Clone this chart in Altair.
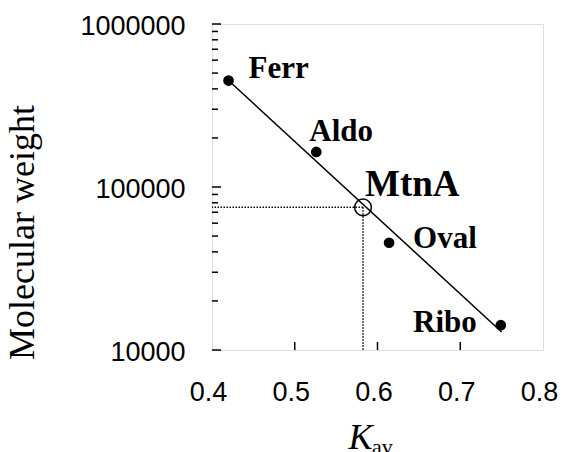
import altair as alt
import pandas as pd

# Calibration standards (gel filtration): Kav vs molecular weight
standards = ["Ferr", "Aldo", "Oval", "Ribo"]
std_kav = [0.42, 0.526, 0.614, 0.749]
std_mw = [450000, 164000, 45500, 14200]

# Sample protein
sample_name = ["MtnA"]
sample_kav = [0.5825]
sample_mw = [75000]

# Calibration line end points
fit_kav = [0.42, 0.75]
fit_mw = [450000, 12900]

# Axis ticks
x_ticks = [0.4, 0.5, 0.6, 0.7, 0.8]
x_inner_ticks = [0.5, 0.6, 0.7]
y_major = [10000, 100000, 1000000]
y_minor = [20000, 30000, 40000, 50000, 60000, 70000, 80000, 90000,
           200000, 300000, 400000, 500000, 600000, 700000, 800000, 900000]

W, H = 331, 326
SERIF = "Liberation Serif"
SANS = "Liberation Sans"

std_df = pd.DataFrame({"name": standards, "kav": std_kav, "mw": std_mw})
smp_df = pd.DataFrame({"name": sample_name, "kav": sample_kav, "mw": sample_mw})
fit_df = pd.DataFrame({"kav": fit_kav, "mw": fit_mw})

xs = alt.Scale(domain=[0.4, 0.8], nice=False, zero=False)
ys = alt.Scale(type="log", domain=[10000, 1000000], nice=False)

x_axis = alt.Axis(
    values=x_ticks, format=".1f", ticks=False, tickSize=0, domain=False, grid=False,
    labelFont=SANS, labelFontSize=27, labelColor="black", labelPadding=29,
    labelOffset=-4, labelFlush=False, labelOverlap=False, labelBound=False,
    title="K", titleFont=SERIF, titleFontSize=36, titleFontStyle="italic",
    titleFontWeight="normal", titleColor="black", titleAlign="left",
    titleBaseline="alphabetic", titleX=136, titleY=98,
)
y_axis = alt.Axis(
    values=y_major, format="d", ticks=False, tickSize=0, domain=False, grid=False,
    labelFont=SANS, labelFontSize=27, labelColor="black", labelPadding=27,
    labelOffset=2, labelFlush=False, labelOverlap=False, labelBound=False,
    title="Molecular weight", titleFont=SERIF, titleFontSize=36,
    titleFontWeight="normal", titleColor="black", titleAngle=-90,
    titleAlign="center", titleBaseline="middle", titleX=-190, titleY=208,
)

X = alt.X("kav:Q", scale=xs, axis=x_axis)
Y = alt.Y("mw:Q", scale=ys, axis=y_axis)

line = alt.Chart(fit_df).mark_line(color="black", strokeWidth=1.5).encode(x=X, y=Y)

# Dotted read-off guides for the sample
h_guide = alt.Chart(smp_df).mark_rule(color="black", strokeWidth=1.5, strokeDash=[1.5, 1.5]).encode(
    x=X, x2=alt.value(0), y=Y
)
v_guide = alt.Chart(smp_df).mark_rule(color="black", strokeWidth=1.5, strokeDash=[1.5, 1.5]).encode(
    x=X, y=Y, y2=alt.value(H)
)

dots = alt.Chart(std_df).mark_circle(color="black", opacity=1, size=115).encode(x=X, y=Y)
ring = alt.Chart(smp_df).mark_point(
    shape="circle", filled=False, color="black", strokeWidth=1.5, size=280, opacity=1
).encode(x=X, y=Y)

# Point labels
label_style = {
    "Ferr": dict(dx=20, dy=-3, align="left"),
    "Aldo": dict(dx=-7, dy=-11, align="left"),
    "Oval": dict(dx=24, dy=5, align="left"),
    "Ribo": dict(dx=-24, dy=7, align="right"),
}
labels = []
for nm, st in label_style.items():
    labels.append(
        alt.Chart(std_df).transform_filter(alt.datum.name == nm).mark_text(
            font=SERIF, fontSize=31, fontWeight="bold", color="black",
            baseline="alphabetic", **st
        ).encode(x=X, y=Y, text="name:N")
    )
labels.append(
    alt.Chart(smp_df).mark_text(
        font=SERIF, fontSize=37, fontWeight="bold", color="black",
        baseline="alphabetic", align="left", dx=2, dy=-11
    ).encode(x=X, y=Y, text="name:N")
)

# Inward tick marks on the left and bottom axes
minor_ticks = alt.Chart(pd.DataFrame({"mw": y_minor})).mark_rule(
    color="black", strokeWidth=1.5
).encode(y=Y, x=alt.value(0), x2=alt.value(6))
major_ticks = alt.Chart(pd.DataFrame({"mw": y_major})).mark_rule(
    color="black", strokeWidth=1.5
).encode(y=Y, x=alt.value(0), x2=alt.value(9))
x_tick_marks = alt.Chart(pd.DataFrame({"kav": x_inner_ticks})).mark_rule(
    color="black", strokeWidth=1.5
).encode(x=X, y=alt.value(H), y2=alt.value(H - 8))

# Subscript of the x-axis title
sub = alt.Chart(pd.DataFrame({"t": ["av"]})).mark_text(
    font=SERIF, fontSize=22, color="black", align="left", baseline="alphabetic"
).encode(x=alt.value(160), y=alt.value(430), text="t:N")

chart = alt.layer(
    line, h_guide, v_guide, dots, ring, *labels,
    minor_ticks, major_ticks, x_tick_marks, sub
).properties(
    width=W, height=H,
    autosize=alt.AutoSizeParams(type="none"),
    padding={"left": 212, "top": 24, "right": 20, "bottom": 102},
).configure_view(
    stroke="black", strokeWidth=2
).configure(background="white")

chart.save("out.html", embed_options={"renderer": "svg", "actions": False})
